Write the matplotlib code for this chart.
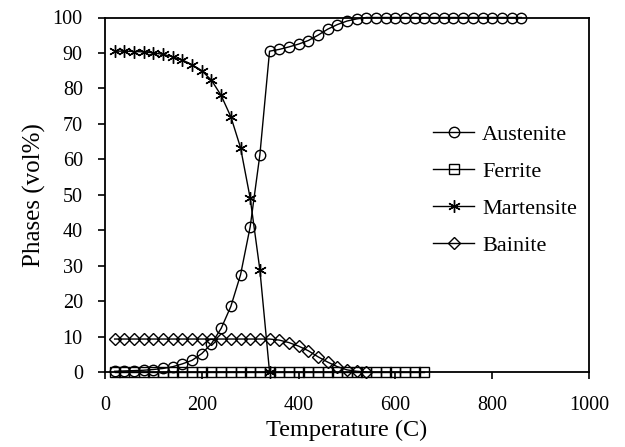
import matplotlib
matplotlib.use("Agg")
import matplotlib.pyplot as plt
import numpy as np

plt.rcParams['font.family'] = ['Liberation Serif', 'DejaVu Serif']

# Temperatures (C), step 20
temp_aus = list(range(20, 861, 20))
austenite = [0.2, 0.3, 0.4, 0.5, 0.7, 1.0, 1.5, 2.3, 3.3, 5.2, 8.0, 12.3, 18.5, 27.4, 41.0, 61.3,
             90.5, 91.0, 91.7, 92.5, 93.5, 95.0, 96.7, 98.0, 99.0, 99.6, 100.0,
             100, 100, 100, 100, 100, 100, 100, 100, 100, 100, 100, 100, 100, 100, 100, 100]

temp_fer = list(range(20, 661, 20))
ferrite = [0.0] * len(temp_fer)

temp_mar = list(range(20, 341, 20))
martensite = [90.5, 90.5, 90.4, 90.3, 90.0, 89.6, 88.9, 88.0, 86.7, 85.0, 82.3, 78.0, 72.0,
              63.3, 49.0, 28.8, 0.0]

temp_bai = list(range(20, 541, 20))
bainite = [9.3] * 17 + [9.0, 8.3, 7.3, 6.0, 4.3, 2.8, 1.5, 0.6, 0.2, 0.0]

fig = plt.figure(figsize=(6.25, 4.47), dpi=100)
ax = fig.add_axes([105/625, 1-372/447, 484/625, 354.5/447])

lw = 1.0
ax.plot(temp_aus, austenite, color='black', lw=lw, marker='o', ms=7.5,
        mfc='none', mec='black', mew=1.0, label='Austenite', clip_on=False, zorder=3)
ax.plot(temp_fer, ferrite, color='black', lw=lw, marker='s', ms=7.0,
        mfc='none', mec='black', mew=1.0, label='Ferrite', clip_on=False, zorder=3)
ax.plot(temp_mar, martensite, color='black', lw=lw, marker=(6, 2, 0), ms=9,
        mec='black', mew=1.0, label='Martensite', clip_on=False, zorder=3)
ax.plot(temp_bai, bainite, color='black', lw=lw, marker='D', ms=6,
        mfc='none', mec='black', mew=1.0, label='Bainite', clip_on=False, zorder=3)

ax.set_xlim(0, 1000)
ax.set_ylim(0, 100)
ax.set_xticks(np.arange(0, 1001, 200))
ax.set_yticks(np.arange(0, 101, 10))
ax.tick_params(direction='out', length=5, width=1.2, labelsize=14.5)
ax.tick_params(axis='x', pad=12.5)
ax.tick_params(axis='y', pad=11)
for s in ax.spines.values():
    s.set_linewidth(1.3)

ax.set_xlabel('Temperature (C)', fontsize=17.5, labelpad=3)
ax.set_ylabel('Phases (vol%)', fontsize=18, labelpad=5)

leg = ax.legend(loc='upper left', bbox_to_anchor=(433/625, 1-124/447),
                bbox_transform=fig.transFigure, frameon=False, fontsize=16,
                borderaxespad=0, borderpad=0, handlelength=1.85, handletextpad=0.35,
                labelspacing=0.75)

fig.savefig('out.png', dpi=100)
